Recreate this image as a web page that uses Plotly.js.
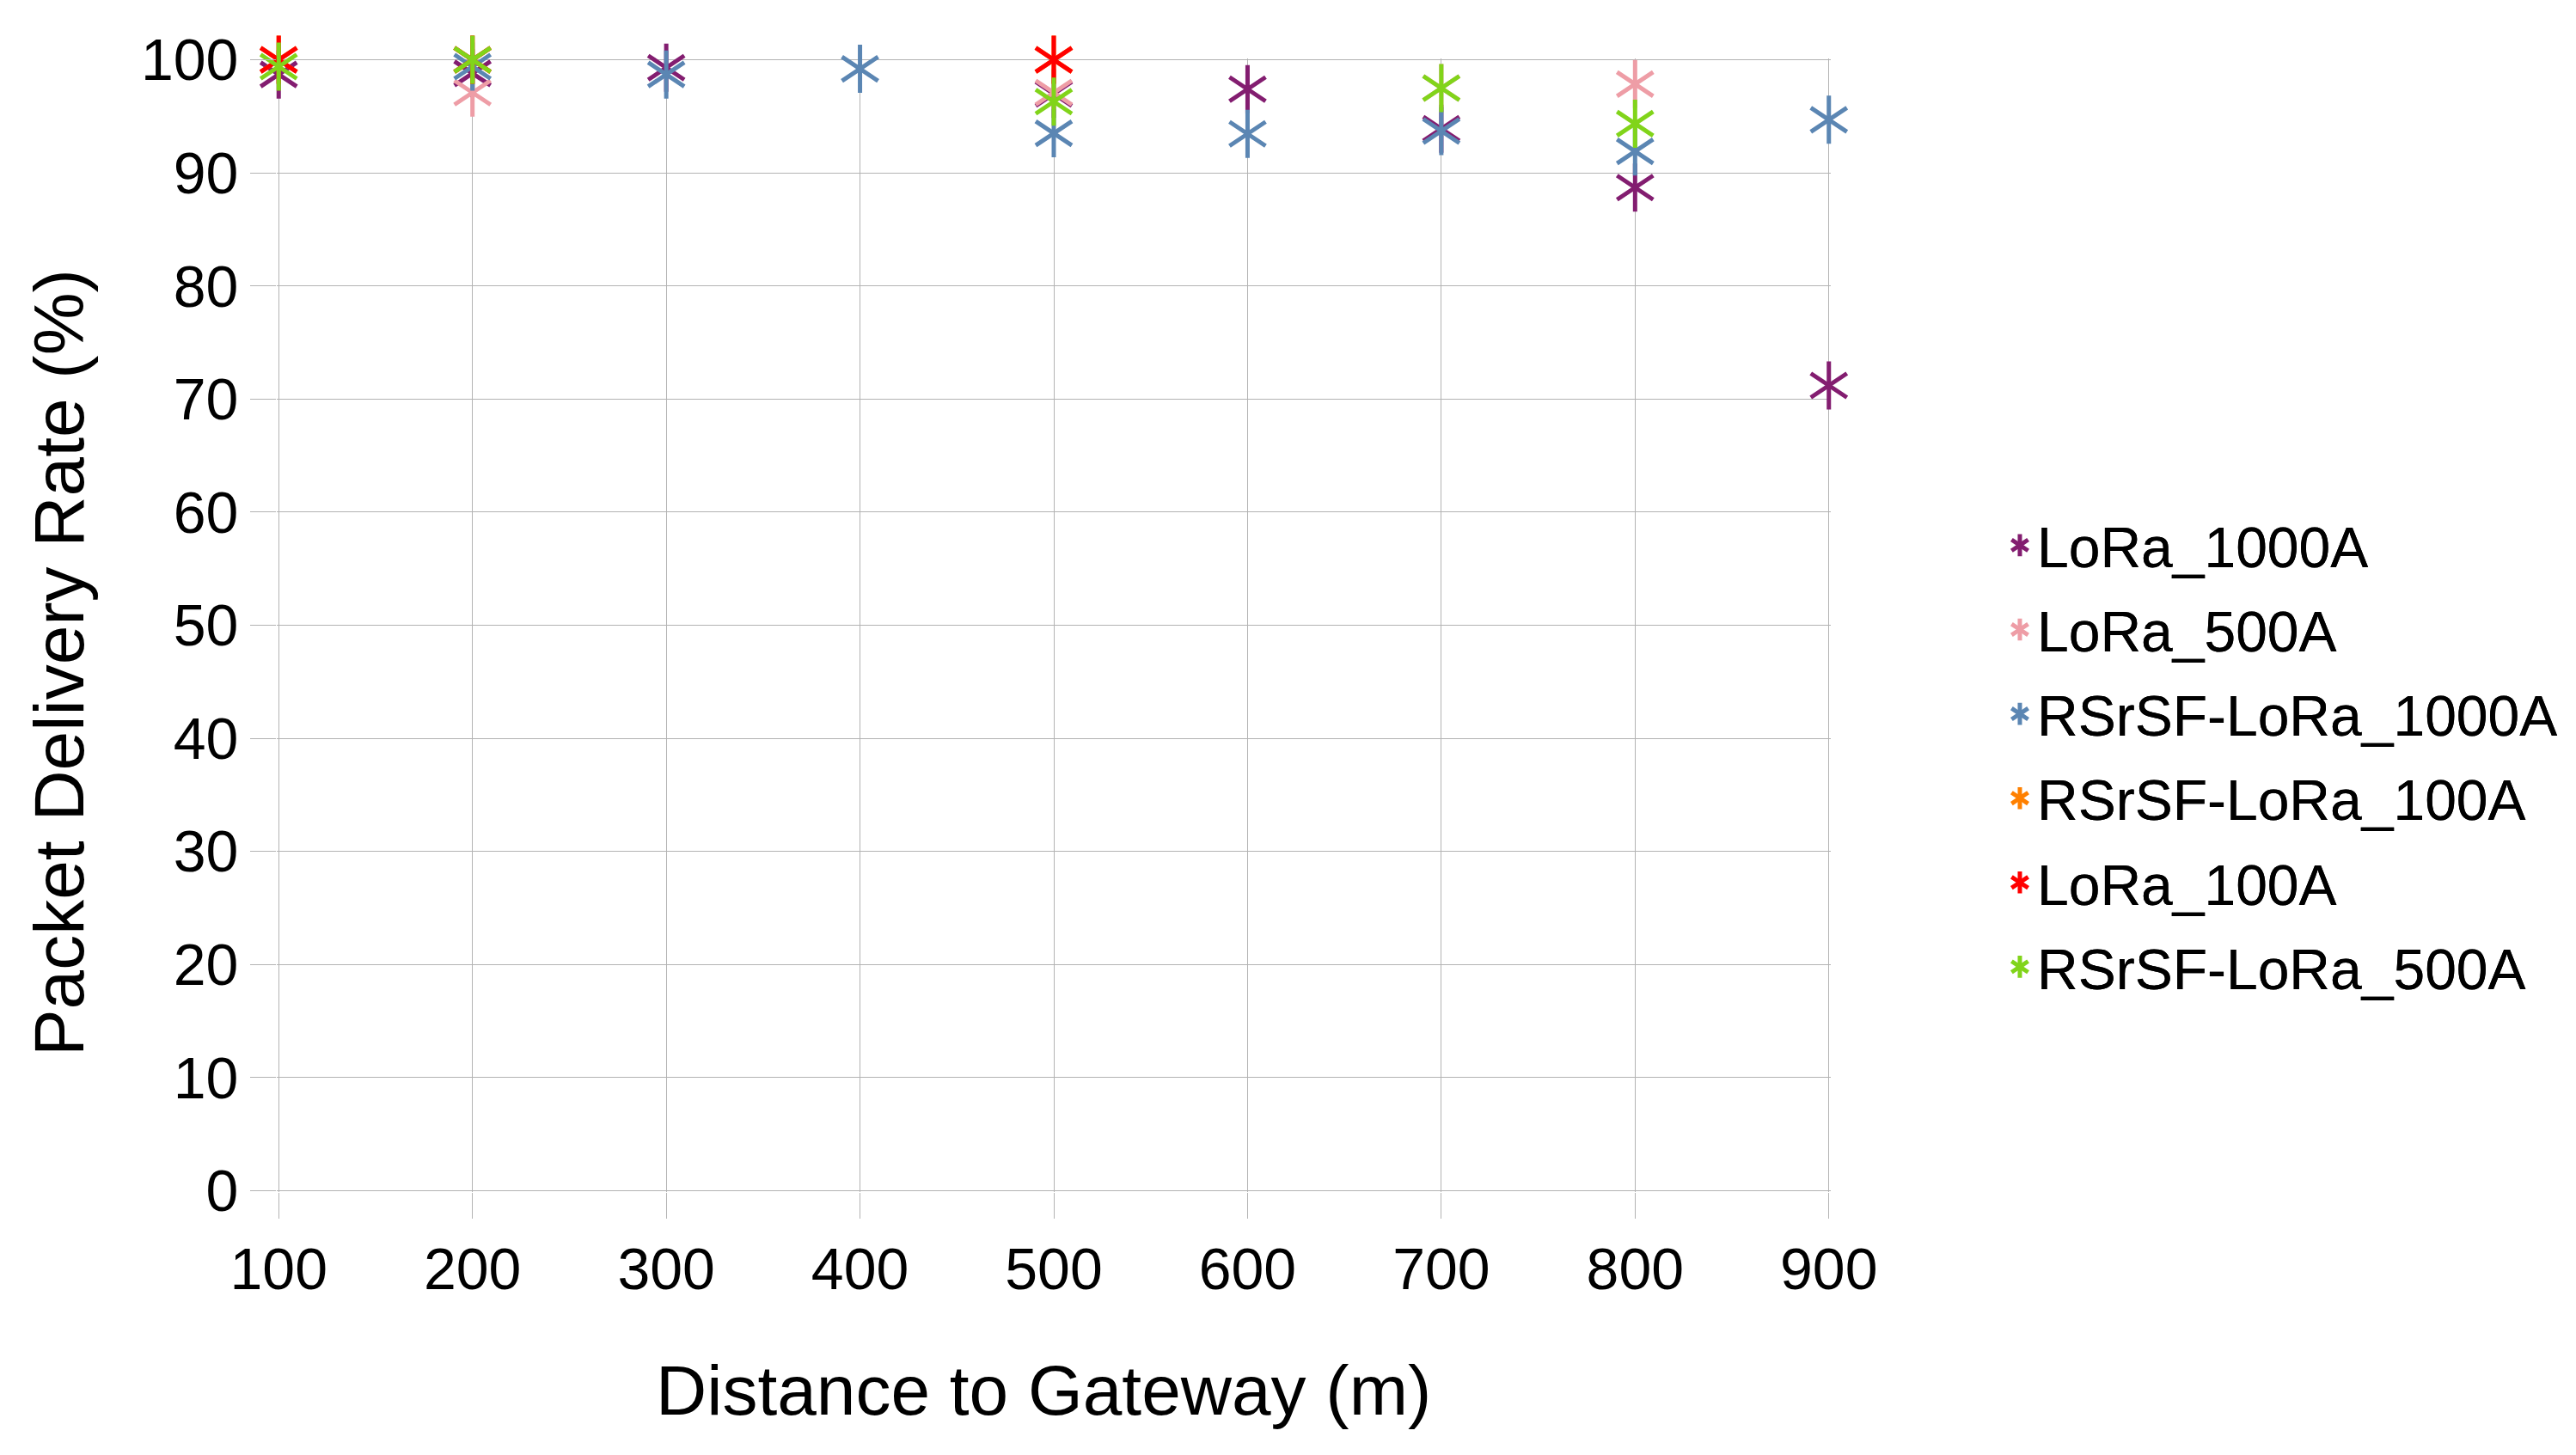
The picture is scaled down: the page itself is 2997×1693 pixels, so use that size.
<!DOCTYPE html>
<html>
<head>
<meta charset="utf-8">
<script src="https://cdn.plot.ly/plotly-3.0.1.min.js"></script>
<style>
  html, body { margin: 0; padding: 0; background: #fff; }
  #chart { width: 2997px; height: 1693px; }
</style>
</head>
<body>
<div id="chart"></div>
<script>
// distances (m) and packet delivery rate (%) per series
var lora1000X = [100, 200, 300, 500, 600, 700, 800, 900];
var lora1000Y = [98.7, 98.8, 99.3, 97.0, 97.4, 93.9, 88.7, 71.2];

var lora500X = [200, 500, 700, 800];
var lora500Y = [97.1, 97.1, 97.5, 97.85];

var rsrsf1000X = [200, 300, 400, 500, 600, 700, 800, 900];
var rsrsf1000Y = [99.4, 98.7, 99.2, 93.5, 93.45, 93.7, 91.9, 94.7];

var rsrsf100X = [100, 200, 500];
var rsrsf100Y = [100, 100, 100];

var lora100X = [100, 200, 500];
var lora100Y = [100, 100, 100];

var rsrsf500X = [100, 200, 500, 700, 800];
var rsrsf500Y = [99.4, 100, 96.3, 97.5, 94.35];

var distanceTicks = [100, 200, 300, 400, 500, 600, 700, 800, 900];

var seriesNames = ["LoRa_1000A", "LoRa_500A", "RSrSF-LoRa_1000A", "RSrSF-LoRa_100A", "LoRa_100A", "RSrSF-LoRa_500A"];
var seriesColors = ["#831d70", "#ee9da6", "#5b86b3", "#ff8000", "#ff0000", "#81d41a"];
var seriesX = [lora1000X, lora500X, rsrsf1000X, rsrsf100X, lora100X, rsrsf500X];
var seriesY = [lora1000Y, lora500Y, rsrsf1000Y, rsrsf100Y, lora100Y, rsrsf500Y];

// the six-armed star is a y-up plus a y-down marker drawn on top of each other,
// each half has its own legend and the two legends sit on the same spot
var traces = [];
for (var i = 0; i < seriesNames.length; i++) {
    ["y-up-open", "y-down-open"].forEach(function (sym, k) {
        traces.push({
            x: seriesX[i],
            y: seriesY[i],
            name: seriesNames[i],
            type: "scatter",
            mode: "markers",
            cliponaxis: false,
            legend: k === 0 ? "legend" : "legend2",
            legendgroup: "g" + i,
            marker: {
                symbol: sym,
                size: 35,
                color: seriesColors[i],
                line: { width: 5, color: seriesColors[i] }
            },
            hoverinfo: "x+y+name"
        });
    });
}

var legendStyle = {
    x: 1.1106,
    xanchor: "left",
    y: 0.3844,
    yanchor: "middle",
    font: { family: "Liberation Sans", size: 66, color: "#000" },
    tracegroupgap: 9.3,
    bgcolor: "rgba(0,0,0,0)",
    borderwidth: 0
};

var gridGrey = "#b3b3b3";

var layout = {
    width: 2997,
    height: 1693,
    margin: { l: 322, r: 867, t: 68, b: 306 },
    paper_bgcolor: "#fff",
    plot_bgcolor: "#fff",
    font: { family: "Liberation Sans", size: 68, color: "#000" },
    showlegend: true,
    legend: legendStyle,
    legend2: Object.assign({}, legendStyle),
    xaxis: {
        // a hair wider than 100..900 so the edge grid lines are kept
        range: [99, 901],
        tickvals: distanceTicks,
        ticks: "outside",
        ticklen: 30,
        tickwidth: 1,
        tickcolor: gridGrey,
        showgrid: true,
        gridcolor: gridGrey,
        gridwidth: 1,
        zeroline: false,
        showline: false,
        tickfont: { size: 68 },
        automargin: false
    },
    yaxis: {
        range: [-0.12, 100.12],
        dtick: 10,
        tick0: 0,
        ticks: "outside",
        ticklen: 30,
        tickwidth: 1,
        tickcolor: gridGrey,
        showgrid: true,
        gridcolor: gridGrey,
        gridwidth: 1,
        zeroline: false,
        showline: false,
        tickfont: { size: 68 },
        automargin: false
    },
    annotations: [
        {
            text: "Distance to Gateway (m)",
            xref: "paper", yref: "paper",
            x: 0.4934, y: -0.1748,
            xanchor: "center", yanchor: "middle",
            showarrow: false,
            font: { family: "Liberation Sans", size: 82, color: "#000" }
        },
        {
            text: "Packet Delivery Rate (%)",
            xref: "paper", yref: "paper",
            x: -0.1402, y: 0.4666,
            xanchor: "center", yanchor: "middle",
            textangle: -90,
            showarrow: false,
            font: { family: "Liberation Sans", size: 82, color: "#000" }
        }
    ]
};

Plotly.newPlot("chart", traces, layout, { displayModeBar: false, staticPlot: true });
</script>
</body>
</html>
